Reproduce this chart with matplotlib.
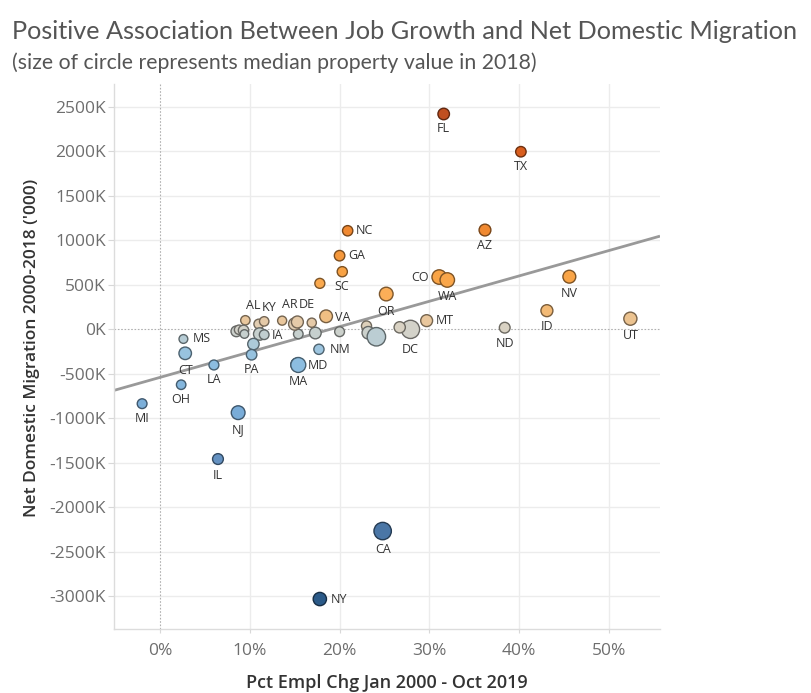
import numpy as np
import matplotlib
matplotlib.use("Agg")
import matplotlib.pyplot as plt
from matplotlib.colors import LinearSegmentedColormap, to_rgb

# ---------------- data ----------------
states = ["FL", "TX", "NC", "GA", "SC", "TN", "AZ", "CO", "WA", "OR",
          "NV", "ID", "UT", "ND", "MT", "DC", "WY", "SD", "AK", "HI",
          "NE", "VA", "MN", "KS", "OK", "NH", "DE", "AR", "MO", "KY",
          "AL", "RI", "IA", "VT", "ME", "IN", "WI", "WV", "NM", "MD",
          "MA", "PA", "LA", "CT", "MS", "OH", "MI", "NJ", "IL", "CA", "NY"]
pct_empl_chg = [31.6, 40.2, 20.9, 20.0, 17.8, 20.3, 36.2, 31.1, 32.0, 25.2,
                45.6, 43.1, 52.4, 38.4, 29.7, 27.9, 26.7, 23.0, 23.2, 24.1,
                20.0, 18.5, 17.3, 15.4, 16.9, 15.0, 15.3, 13.6, 11.0, 11.6,
                9.5, 11.1, 11.6, 10.4, 8.5, 8.8, 9.3, 9.4, 17.7, 15.3,
                15.4, 10.2, 6.0, 2.8, 2.6, 2.35, -2.0, 8.7, 6.45, 24.8, 17.8]
net_migration_k = [2416, 1992, 1104, 824, 513, 644, 1112, 584, 551, 393,
                   588, 206, 116, 15, 94, -4, 19, 34, -42, -87,
                   -30, 143, -45, -56, 71, 56, 79, 94, 56, 86,
                   98, -56, -64, -169, -26, -8, -15, -56, -228, -400,
                   -404, -289, -404, -273, -112, -626, -839, -940, -1461, -2270, -3034]
median_value_k = [231, 187, 182, 189, 170, 177, 242, 373, 373, 330,
                  291, 250, 303, 199, 247, 601, 220, 173, 276, 615,
                  164, 282, 235, 155, 142, 263, 250, 137, 162, 149,
                  147, 270, 158, 226, 198, 148, 184, 121, 178, 314,
                  400, 189, 167, 275, 128, 151, 162, 335, 201, 546, 313]
labeled = ["FL", "TX", "NC", "GA", "SC", "AZ", "CO", "WA", "OR", "NV", "ID",
           "UT", "ND", "MT", "DC", "VA", "NM", "MD", "MA", "PA", "LA", "CT",
           "MS", "OH", "MI", "NJ", "IL", "CA", "NY", "IA", "AL", "KY", "AR", "DE"]
y_ticks = [-3000, -2500, -2000, -1500, -1000, -500, 0, 500, 1000, 1500, 2000, 2500]
x_ticks = [0, 10, 20, 30, 40, 50]

# ---------------- style ----------------
x = np.array(pct_empl_chg)
y = np.array(net_migration_k, dtype=float)
v = np.array(median_value_k, dtype=float)

r_px = np.sqrt(0.135 * v + 2.0)
sizes = (2 * r_px * 0.72) ** 2

anchors = [(-3050, "#2b5a88"), (-2270, "#4a76a6"), (-1460, "#6592c2"),
           (-940, "#79acd8"), (-400, "#8cbde0"), (-230, "#9cc5df"),
           (-150, "#aecbd8"), (-60, "#c3cfcf"), (0, "#d6d3c8"),
           (60, "#e2cdb0"), (100, "#e9c79d"), (150, "#f1bd7e"),
           (400, "#fbae58"), (600, "#f9a446"), (1100, "#f08a31"),
           (2000, "#d95e1e"), (2450, "#bf4e20")]
lo, hi = anchors[0][0], anchors[-1][0]
cmap = LinearSegmentedColormap.from_list(
    "ob", [((a - lo) / (hi - lo), c) for a, c in anchors])
fills = [cmap((val - lo) / (hi - lo)) for val in y]
edges = [tuple(np.array(to_rgb(c[:3])) * 0.5) for c in fills]

plt.rcParams['font.family'] = ['Open Sans', 'DejaVu Sans']

W, H = 812, 693
fig = plt.figure(figsize=(W / 100, H / 100), dpi=100)
ax = fig.add_axes([114.3 / W, 1 - 629.3 / H, (660 - 114.3) / W, (629.3 - 84) / H])

ax.set_xlim(-5.1, 55.7)
ax.set_ylim(-3374, 2753)

for t in x_ticks:
    if t != 0:
        ax.axvline(t, color="#ececec", lw=1, zorder=0)
for t in y_ticks:
    if t != 0:
        ax.axhline(t, color="#ececec", lw=1, zorder=0)
ax.axvline(0, color="#b0b0b0", lw=0.8, ls=(0, (1.5, 1.5)), zorder=1)
ax.axhline(0, color="#b0b0b0", lw=0.8, ls=(0, (1.5, 1.5)), zorder=1)

# trend line
coef = np.polyfit(x, y, 1)
xl = np.array(ax.get_xlim())
ax.plot(xl, np.polyval(coef, xl), color="#999999", lw=2.0, zorder=2,
        solid_capstyle="butt")

ax.scatter(x, y, s=sizes, c=fills, edgecolors=edges, linewidths=1.0, zorder=3)

# label placement (pixel offsets from mark centre)
lab_pos = {
    "FL": (0, -15, "center"), "TX": (0, -15, "center"), "AZ": (0, -15, "center"),
    "WA": (0, -17, "center"), "OR": (0, -17, "center"), "NV": (0, -17, "center"),
    "ID": (0, -16, "center"), "UT": (0, -17, "center"), "ND": (0, -16, "center"),
    "DC": (0, -20, "center"), "MA": (0, -17, "center"), "PA": (0, -15, "center"),
    "LA": (0, -15, "center"), "CT": (0, -17, "center"), "OH": (0, -15, "center"),
    "MI": (0, -15, "center"), "NJ": (0, -17, "center"), "IL": (0, -16, "center"),
    "CA": (0, -18, "center"),
    "NC": (8, 0, "left"), "GA": (9, 0, "left"), "SC": (15, -3, "left"),
    "MT": (9, 0, "left"), "VA": (9, -1, "left"), "NM": (11, 0, "left"),
    "MD": (10, -1, "left"), "MS": (9, 0, "left"), "NY": (11, 0, "left"),
    "IA": (8, -1, "left"), "CO": (-10, 0, "right"),
    "AL": (8, 15, "center"), "KY": (5, 14, "center"), "AR": (8, 16, "center"),
    "DE": (9, 17, "center"),
}
for s, xi, yi in zip(states, x, y):
    if s in labeled:
        dx, dy, ha = lab_pos[s]
        ax.annotate(s, (xi, yi), xytext=(dx, dy), textcoords="offset pixels",
                    ha=ha, va="center", fontsize=9, color="#333333", zorder=4)

ax.set_xticks(x_ticks)
ax.set_xticklabels([f"{t}%" for t in x_ticks])
ax.set_yticks(y_ticks)
ax.set_yticklabels([f"{t}K" for t in y_ticks])
ax.tick_params(axis="y", length=4, color="#d8d8d8", pad=2, labelsize=12.5,
               labelcolor="#6e6e6e")
ax.tick_params(axis="x", length=3, color="#d8d8d8", pad=7, labelsize=12.5,
               labelcolor="#6e6e6e")
for sp in ["top", "right"]:
    ax.spines[sp].set_visible(False)
for sp in ["left", "bottom"]:
    ax.spines[sp].set_color("#dcdcdc")
    ax.spines[sp].set_linewidth(1)

fig.text(32 / W, 1 - 348 / H, "Net Domestic Migration 2000-2018 ('000)",
         rotation=90, ha="center", va="center", fontsize=12.5, color="#333333",
         fontweight="semibold")
fig.text(387 / W, 1 - 683 / H, "Pct Empl Chg Jan 2000 - Oct 2019",
         ha="center", va="center", fontsize=13, color="#333333",
         fontweight="semibold")

fig.text(12 / W, 1 - 39 / H,
         "Positive Association Between Job Growth and Net Domestic Migration",
         ha="left", va="baseline", fontsize=18.2, color="#555555",
         family=["Lato", "DejaVu Sans"], fontweight="normal")
fig.text(12 / W, 1 - 69 / H,
         "(size of circle represents median property value in 2018)",
         ha="left", va="baseline", fontsize=15.3, color="#555555",
         family=["Lato", "DejaVu Sans"], fontweight="normal")

fig.savefig("out.png", dpi=100, facecolor="white")
